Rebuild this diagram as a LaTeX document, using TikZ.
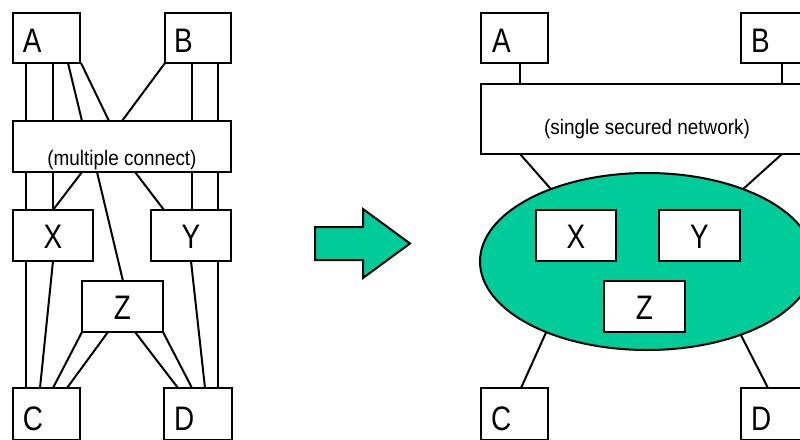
\documentclass[tikz,border=0pt]{standalone}
\usepackage{fontspec}
\setmainfont{Liberation Sans}
\newfontfamily\bigf{Liberation Sans}[FakeStretch=0.82]
\newfontfamily\smallf{Liberation Sans}[FakeStretch=0.9]
\usetikzlibrary{shapes.geometric,calc}
\definecolor{netgreen}{HTML}{00CC99}
\begin{document}
\begin{tikzpicture}[x=1pt,y=-1pt,
  box/.style={draw, line width=2pt, fill=white, anchor=north west, inner sep=0pt, outer sep=0pt,
    font=\bigf\fontsize{34}{36}\selectfont},
  cbox/.style={box, minimum width=80pt, minimum height=51pt, text height=38pt, text depth=13pt},
  tbox/.style={box, minimum width=67pt, minimum height=50pt, text height=39pt, text depth=11pt},
  bbox/.style={box, minimum width=67pt, minimum height=52pt, text height=42pt, text depth=10pt},
  netbox/.style={box, font=\smallf\fontsize{21}{24}\selectfont},
  conn/.style={line width=2pt}]
\useasboundingbox (0,0) rectangle (800,439);
\clip (0,0) rectangle (800,439);

% ---------- left diagram ----------
\node[tbox, inner xsep=10pt] (A1) at (13,13) {\makebox[47pt][l]{A}};
\node[tbox, inner xsep=9pt, minimum width=66pt] (B1) at (165,13) {\makebox[48pt][l]{B}};
\node[netbox, minimum width=218pt, minimum height=51pt, text height=44pt, text depth=7pt] (N1) at (13,121) {(multiple connect)};
\node[cbox] (X1) at (13,210) {X};
\node[cbox] (Y1) at (151,210) {Y};
\node[cbox, minimum width=81pt] (Z1) at (82,281) {Z};
\node[bbox, inner xsep=10pt] (C1) at (13,388) {\makebox[47pt][l]{C}};
\node[bbox, inner xsep=10pt, minimum width=68pt] (D1) at (164,388) {\makebox[48pt][l]{D}};

% A to network
\draw[conn] ($(A1.south west)+(13,0)$) -- ($(N1.north west)+(13,0)$);
\draw[conn] ($(A1.south west)+(40,0)$) -- ($(N1.north west)+(40,0)$);
\draw[conn] ($(A1.south west)+(55,0)$) -- ($(N1.north west)+(69,0)$);
\draw[conn] ($(A1.south west)+(68,0)$) -- ($(N1.north west)+(96,0)$);
% B to network
\draw[conn] (B1.south west) -- ($(N1.north west)+(109,0)$);
\draw[conn] ($(B1.south west)+(27,0)$) -- ($(N1.north west)+(179,0)$);
\draw[conn] ($(B1.south west)+(53,0)$) -- ($(N1.north west)+(205,0)$);
% network to X, Y, Z
\draw[conn] ($(N1.south west)+(13,0)$) -- ($(X1.north west)+(13,0)$);
\draw[conn] ($(N1.south west)+(40,0)$) -- ($(X1.north west)+(40,0)$);
\draw[conn] ($(N1.south west)+(69,0)$) -- ($(X1.north west)+(40,0)$);
\draw[conn] ($(N1.south west)+(84,0)$) -- ($(Z1.north west)+(41,0)$);
\draw[conn] ($(N1.south west)+(122,0)$) -- ($(Y1.north west)+(13,0)$);
\draw[conn] ($(N1.south west)+(179,0)$) -- ($(Y1.north west)+(41,0)$);
\draw[conn] ($(N1.south west)+(205,0)$) -- ($(Y1.north west)+(67,0)$);
% X, Y, Z to C, D
\draw[conn] ($(X1.south west)+(13,0)$) -- ($(C1.north west)+(13,0)$);
\draw[conn] ($(X1.south west)+(40,0)$) -- ($(C1.north west)+(27,0)$);
\draw[conn] ($(Y1.south west)+(40,0)$) -- ($(D1.north west)+(41,0)$);
\draw[conn] ($(Y1.south west)+(67,0)$) -- ($(D1.north west)+(54,0)$);
\draw[conn] (Z1.south west) -- ($(C1.north west)+(40,0)$);
\draw[conn] ($(Z1.south west)+(26,0)$) -- ($(C1.north west)+(54,0)$);
\draw[conn] ($(Z1.south west)+(53,0)$) -- ($(D1.north west)+(14,0)$);
\draw[conn] (Z1.south east) -- ($(D1.north west)+(28,0)$);

% ---------- arrow ----------
\draw[line width=2pt, fill=netgreen, line join=miter]
  (315,227) -- (363,227) -- (363,209) -- (410,243.5) -- (363,278) -- (363,260) -- (315,260) -- cycle;

% ---------- right diagram ----------
\node[tbox, inner xsep=11pt] (A2) at (481,13) {\makebox[45pt][l]{A}};
\node[tbox, inner xsep=10pt] (B2) at (741,13) {\makebox[47pt][l]{B}};
\node[netbox, minimum width=332pt, minimum height=70pt, text height=50pt, text depth=20pt] (N2) at (481,84) {(single secured network)};
\node[ellipse, draw, fill=netgreen, line width=2pt, inner sep=0pt, outer sep=0pt,
      minimum width=334pt, minimum height=177pt] (E) at (647,261.5) {};
\node[cbox] (X2) at (536,210) {X};
\node[cbox, minimum width=81pt] (Y2) at (659,210) {Y};
\node[cbox, minimum width=81pt] (Z2) at (604,281) {Z};
\node[bbox, inner xsep=10pt] (C2) at (481,388) {\makebox[47pt][l]{C}};
\node[bbox, inner xsep=10pt] (D2) at (741,388) {\makebox[47pt][l]{D}};

\draw[conn] ($(A2.south west)+(39,0)$) -- ($(N2.north west)+(39,0)$);
\draw[conn] ($(B2.south west)+(41,0)$) -- ($(N2.north west)+(301,0)$);
\draw[conn] ($(N2.south west)+(39,0)$) -- (E.143.9);
\draw[conn] ($(N2.south west)+(301,0)$) -- (E.37.3);
\draw[conn] (E.215.8) -- ($(C2.north west)+(40,0)$);
\draw[conn] (E.322.7) -- ($(D2.north west)+(27,0)$);
\end{tikzpicture}
\end{document}
